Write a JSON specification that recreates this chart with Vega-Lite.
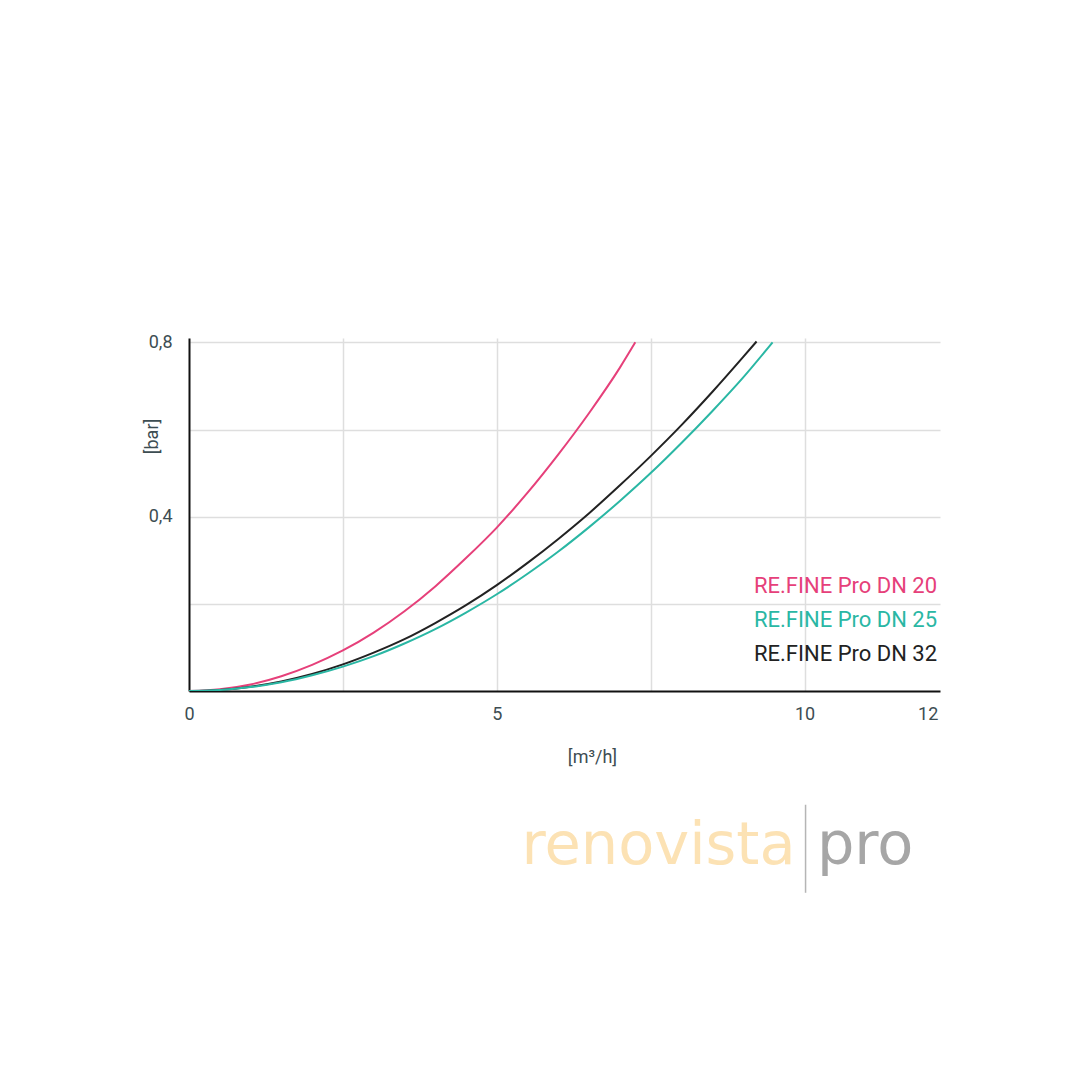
{
  "$schema": "https://vega.github.io/schema/vega-lite/v6.json",
  "width": 751,
  "height": 353,
  "autosize": {"type": "none"},
  "padding": {"left": 189, "top": 338, "right": 140, "bottom": 389},
  "background": "white",
  "config": {"view": {"stroke": null}, "font": "Roboto"},
  "layer": [
    {
      "data": {
        "values": [
          {"series": "RE.FINE Pro DN 20", "q": 0, "p": 0},
          {"series": "RE.FINE Pro DN 20", "q": 0.5, "p": 0.004},
          {"series": "RE.FINE Pro DN 20", "q": 1, "p": 0.015},
          {"series": "RE.FINE Pro DN 20", "q": 1.5, "p": 0.034},
          {"series": "RE.FINE Pro DN 20", "q": 2, "p": 0.06},
          {"series": "RE.FINE Pro DN 20", "q": 2.5, "p": 0.093},
          {"series": "RE.FINE Pro DN 20", "q": 3, "p": 0.134},
          {"series": "RE.FINE Pro DN 20", "q": 3.5, "p": 0.183},
          {"series": "RE.FINE Pro DN 20", "q": 4, "p": 0.24},
          {"series": "RE.FINE Pro DN 20", "q": 4.5, "p": 0.305},
          {"series": "RE.FINE Pro DN 20", "q": 5, "p": 0.375},
          {"series": "RE.FINE Pro DN 20", "q": 5.5, "p": 0.455},
          {"series": "RE.FINE Pro DN 20", "q": 6, "p": 0.543},
          {"series": "RE.FINE Pro DN 20", "q": 6.5, "p": 0.638},
          {"series": "RE.FINE Pro DN 20", "q": 7, "p": 0.742},
          {"series": "RE.FINE Pro DN 20", "q": 7.25, "p": 0.8},
          {"series": "RE.FINE Pro DN 32", "q": 0, "p": 0},
          {"series": "RE.FINE Pro DN 32", "q": 0.5, "p": 0.0025},
          {"series": "RE.FINE Pro DN 32", "q": 1, "p": 0.01},
          {"series": "RE.FINE Pro DN 32", "q": 1.5, "p": 0.022},
          {"series": "RE.FINE Pro DN 32", "q": 2, "p": 0.039},
          {"series": "RE.FINE Pro DN 32", "q": 2.5, "p": 0.061},
          {"series": "RE.FINE Pro DN 32", "q": 3, "p": 0.088},
          {"series": "RE.FINE Pro DN 32", "q": 3.5, "p": 0.119},
          {"series": "RE.FINE Pro DN 32", "q": 4, "p": 0.156},
          {"series": "RE.FINE Pro DN 32", "q": 4.5, "p": 0.197},
          {"series": "RE.FINE Pro DN 32", "q": 5, "p": 0.243},
          {"series": "RE.FINE Pro DN 32", "q": 5.5, "p": 0.294},
          {"series": "RE.FINE Pro DN 32", "q": 6, "p": 0.349},
          {"series": "RE.FINE Pro DN 32", "q": 6.5, "p": 0.408},
          {"series": "RE.FINE Pro DN 32", "q": 7, "p": 0.472},
          {"series": "RE.FINE Pro DN 32", "q": 7.5, "p": 0.539},
          {"series": "RE.FINE Pro DN 32", "q": 8, "p": 0.61},
          {"series": "RE.FINE Pro DN 32", "q": 8.5, "p": 0.686},
          {"series": "RE.FINE Pro DN 32", "q": 9, "p": 0.766},
          {"series": "RE.FINE Pro DN 32", "q": 9.22, "p": 0.802},
          {"series": "RE.FINE Pro DN 25", "q": 0, "p": 0},
          {"series": "RE.FINE Pro DN 25", "q": 0.5, "p": 0.0022},
          {"series": "RE.FINE Pro DN 25", "q": 1, "p": 0.009},
          {"series": "RE.FINE Pro DN 25", "q": 1.5, "p": 0.02},
          {"series": "RE.FINE Pro DN 25", "q": 2, "p": 0.036},
          {"series": "RE.FINE Pro DN 25", "q": 2.5, "p": 0.056},
          {"series": "RE.FINE Pro DN 25", "q": 3, "p": 0.08},
          {"series": "RE.FINE Pro DN 25", "q": 3.5, "p": 0.109},
          {"series": "RE.FINE Pro DN 25", "q": 4, "p": 0.142},
          {"series": "RE.FINE Pro DN 25", "q": 4.5, "p": 0.18},
          {"series": "RE.FINE Pro DN 25", "q": 5, "p": 0.222},
          {"series": "RE.FINE Pro DN 25", "q": 5.5, "p": 0.269},
          {"series": "RE.FINE Pro DN 25", "q": 6, "p": 0.32},
          {"series": "RE.FINE Pro DN 25", "q": 6.5, "p": 0.376},
          {"series": "RE.FINE Pro DN 25", "q": 7, "p": 0.436},
          {"series": "RE.FINE Pro DN 25", "q": 7.5, "p": 0.5},
          {"series": "RE.FINE Pro DN 25", "q": 8, "p": 0.569},
          {"series": "RE.FINE Pro DN 25", "q": 8.5, "p": 0.642},
          {"series": "RE.FINE Pro DN 25", "q": 9, "p": 0.719},
          {"series": "RE.FINE Pro DN 25", "q": 9.48, "p": 0.8}
        ]
      },
      "mark": {"type": "line", "interpolate": "monotone", "strokeWidth": 2, "clip": true},
      "encoding": {
        "x": {
          "field": "q",
          "type": "quantitative",
          "scale": {"domain": [0, 12.2], "nice": false, "zero": true},
          "axis": {
            "values": [0, 2.5, 5, 7.5, 10, 12],
            "labelExpr": "datum.value == 2.5 || datum.value == 7.5 ? '' : format(datum.value, 'd')",
            "labelFlush": false,
            "labelOverlap": false,
            "ticks": false,
            "domainColor": "#111111",
            "domainWidth": 2,
            "gridColor": "#dedede",
            "gridWidth": 1.5,
            "gridOpacity": {"condition": {"test": "datum.value == 0 || datum.value == 12", "value": 0}, "value": 1},
            "labelFontSize": 18,
            "labelColor": "#3d4d52",
            "labelPadding": 14,
            "title": "[m³/h]",
            "titleFontSize": 18,
            "titleFontWeight": "normal",
            "titleColor": "#3d4d52",
            "titleX": 403,
            "titleY": 66,
            "titleBaseline": "middle",
            "titleAlign": "center"
          }
        },
        "y": {
          "field": "p",
          "type": "quantitative",
          "scale": {"domain": [0, 0.81], "nice": false},
          "axis": {
            "values": [0.2, 0.4, 0.6, 0.8],
            "labelExpr": "datum.value == 0.4 || datum.value == 0.8 ? replace(format(datum.value, '.1f'), '.', ',') : ''",
            "labelOverlap": false,
            "ticks": false,
            "domainColor": "#111111",
            "domainWidth": 2,
            "gridColor": "#dedede",
            "gridWidth": 1.5,
            "labelFontSize": 18,
            "labelColor": "#3d4d52",
            "labelPadding": 17,
            "title": "[bar]",
            "titleFontSize": 18,
            "titleFontWeight": "normal",
            "titleColor": "#3d4d52",
            "titleX": -37,
            "titleY": 98,
            "titleAngle": 270,
            "titleBaseline": "middle",
            "titleAlign": "center"
          }
        },
        "color": {
          "field": "series",
          "type": "nominal",
          "scale": {
            "domain": ["RE.FINE Pro DN 20", "RE.FINE Pro DN 25", "RE.FINE Pro DN 32"],
            "range": ["#e6407a", "#2ab7a4", "#222222"]
          },
          "legend": {
            "orient": "none",
            "legendX": 543,
            "legendY": 237,
            "title": null,
            "symbolSize": 0,
            "symbolStrokeWidth": 0,
            "symbolOpacity": 0,
            "labelOffset": 0,
            "labelFontSize": 22,
            "labelLimit": 400,
            "rowPadding": 12,
            "encode": {"labels": {"update": {"fill": {"signal": "scale('color', datum.value)"}}}}
          }
        }
      }
    },
    {
      "data": {"values": [{"word": "renovista"}]},
      "mark": {"type": "text", "align": "right", "baseline": "alphabetic", "font": "DejaVu Sans", "fontWeight": "normal", "fontSize": 59, "color": "#fce2b4"},
      "encoding": {"text": {"field": "word"}, "x": {"datum": 9.854}, "y": {"datum": -0.397}}
    },
    {
      "data": {"values": [{"word": "pro"}]},
      "mark": {"type": "text", "align": "left", "baseline": "alphabetic", "font": "DejaVu Sans", "fontWeight": "normal", "fontSize": 59, "color": "#a6a6a6"},
      "encoding": {"text": {"field": "word"}, "x": {"datum": 10.2}, "y": {"datum": -0.397}}
    },
    {
      "data": {"values": [{"part": "divider"}]},
      "mark": {"type": "rule", "color": "#b5b5b5", "strokeWidth": 1.5},
      "encoding": {"x": {"datum": 10.016}, "y": {"datum": -0.261}, "y2": {"datum": -0.463}}
    }
  ]
}
